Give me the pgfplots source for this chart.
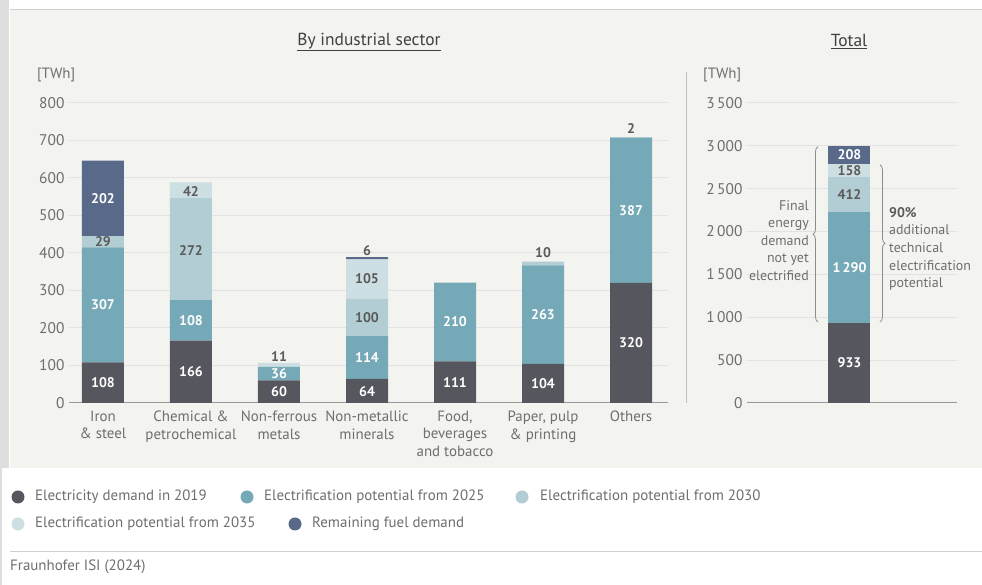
\documentclass[border=0pt]{standalone}
\usepackage{pgfplots}
\pgfplotsset{compat=1.18}
\usepackage{pgfplotstable}
\usepackage{fontspec}
\setmainfont{PT Sans}
\usetikzlibrary{decorations.pathreplacing}

\definecolor{c19}{HTML}{56565F}
\definecolor{c25}{HTML}{75A9B7}
\definecolor{c30}{HTML}{B2CDD4}
\definecolor{c35}{HTML}{CEDFE3}
\definecolor{cfuel}{HTML}{58698A}
\definecolor{panel}{HTML}{F3F3EF}
\definecolor{gridc}{HTML}{E2E2E2}
\definecolor{txt}{HTML}{6E6E6E}
\definecolor{lab}{HTML}{5A5A5A}

% sector values, bottom to top
\pgfplotstableread{
x e19 p25 p30 p35 fuel
0 108 307 29 0 202
1 166 108 272 42 0
2 60 36 0 11 0
3 64 114 100 105 6
4 111 210 0 0 0
5 104 263 10 0 0
6 320 387 2 0 0
}\sectordata

\pgfplotstableread{
x e19 p25 p30 p35 fuel
0 933 1290 412 158 208
}\totaldata

\pgfplotsset{
  common/.style={
    scale only axis, ybar stacked, bar width=42bp, ymin=0,
    axis x line*=bottom, axis y line*=left,
    y axis line style={draw=none},
    x axis line style={draw=black!40, line width=1bp},
    major tick length=0pt,
    ymajorgrids, grid style={gridc, line width=1bp},
    yticklabel style={txt, font=\fontsize{15.5}{18}\selectfont, xshift=-1bp},
    /pgf/number format/assume math mode=true,
    /pgf/number format/1000 sep={\,},
    clip=false,
  },
  leftbox/.style={at={(69bp,182bp)}, anchor=south west, scale only axis,
    width=599bp, height=300bp, xmin=-0.386, xmax=6.42, ymin=0, ymax=800, clip=false},
  rightbox/.style={at={(747bp,182bp)}, anchor=south west, scale only axis,
    width=210bp, height=300bp, xmin=-0.976, xmax=1.024, ymin=0, ymax=3500, clip=false},
}
\tikzset{
  vl/.style={font=\bfseries\fontsize{14}{15}\selectfont, white},
  vd/.style={font=\bfseries\fontsize{14}{15}\selectfont, lab},
}

\begin{document}
\begin{tikzpicture}[x=1bp,y=1bp]
\useasboundingbox (0,0) rectangle (982,585);
\fill[white] (0,0) rectangle (982,585);
\fill[panel] (10,117) rectangle (982,575);
\draw[black!18, line width=1bp] (10,575) -- (982,575);
\fill[black!13] (0,117) rectangle (9,585);
\fill[black!13] (0,0) rectangle (2,117);

\node[anchor=center, text=black!75, font=\fontsize{17.5}{20}\selectfont] at (369,543) {\underline{By industrial sector}};
\node[anchor=center, text=black!75, font=\fontsize{17.5}{20}\selectfont] at (849,543) {\underline{Total}};
\node[anchor=west, txt, font=\fontsize{15}{17}\selectfont, inner sep=0] at (37,510) {[TWh]};
\node[anchor=west, txt, font=\fontsize{15}{17}\selectfont, inner sep=0] at (703,510) {[TWh]};
\draw[black!25, line width=1bp] (686,513) -- (686,182);

\begin{axis}[common, leftbox,
  ytick={0,100,...,800},
  xtick={0,...,6},
  xticklabels={{Iron\\\& steel},{Chemical \&\\petrochemical},{Non-ferrous\\metals},{Non-metallic\\minerals},{Food,\\beverages\\and tobacco},{Paper, pulp\\\& printing},{Others}},
  xticklabel style={txt, align=center, yshift=-4.5bp, font=\fontsize{15}{17.5}\selectfont},
]
\addplot[fill=c19, draw=none] table[x=x, y=e19] {\sectordata};
\addplot[fill=c25, draw=none] table[x=x, y=p25] {\sectordata};
\addplot[fill=c30, draw=none] table[x=x, y=p30] {\sectordata};
\addplot[fill=c35, draw=none] table[x=x, y=p35] {\sectordata};
\addplot[fill=cfuel, draw=none] table[x=x, y=fuel] {\sectordata};
\end{axis}

% value labels, drawn over the bars
\begin{axis}[leftbox, hide axis]
\node[vl] at (axis cs:0,54) {108};
\node[vl] at (axis cs:0,261) {307};
\node[vd] at (axis cs:0,429) {29};
\node[vl] at (axis cs:0,545) {202};
\node[vl] at (axis cs:1,83) {166};
\node[vl] at (axis cs:1,220) {108};
\node[vd] at (axis cs:1,406) {272};
\node[vd] at (axis cs:1,565) {42};
\node[vl] at (axis cs:2,29) {60};
\node[vl] at (axis cs:2,77) {36};
\node[vd] at (axis cs:2,123) {11};
\node[vl] at (axis cs:3,30) {64};
\node[vl] at (axis cs:3,121) {114};
\node[vd] at (axis cs:3,228) {100};
\node[vd] at (axis cs:3,331) {105};
\node[vd] at (axis cs:3,405) {6};
\node[vl] at (axis cs:4,55) {111};
\node[vl] at (axis cs:4,216) {210};
\node[vl] at (axis cs:5,52) {104};
\node[vl] at (axis cs:5,235) {263};
\node[vd] at (axis cs:5,400) {10};
\node[vl] at (axis cs:6,160) {320};
\node[vl] at (axis cs:6,513) {387};
\node[vd] at (axis cs:6,733) {2};
\end{axis}

\begin{axis}[common, rightbox,
  ytick={0,500,...,3500},
  xtick=\empty,
]
\addplot[fill=c19, draw=none] table[x=x, y=e19] {\totaldata};
\addplot[fill=c25, draw=none] table[x=x, y=p25] {\totaldata};
\addplot[fill=c30, draw=none] table[x=x, y=p30] {\totaldata};
\addplot[fill=c35, draw=none] table[x=x, y=p35] {\totaldata};
\addplot[fill=cfuel, draw=none] table[x=x, y=fuel] {\totaldata};
\end{axis}

\begin{axis}[rightbox, hide axis]
\node[vl] at (axis cs:0,466) {933};
\node[vl] at (axis cs:0,1585) {1\,290};
\node[vd] at (axis cs:0,2429) {412};
\node[vd] at (axis cs:0,2714) {158};
\node[vl] at (axis cs:0,2897) {208};
\draw[black!45, line width=0.8bp, decorate, decoration={brace, amplitude=5bp}]
  (axis cs:-0.3,945) -- (axis cs:-0.3,2990);
\draw[black!45, line width=0.8bp, decorate, decoration={brace, amplitude=5bp}]
  (axis cs:0.29,2780) -- (axis cs:0.29,945);
\node[anchor=east, align=right, txt, inner sep=0, font=\fontsize{14}{17.7}\selectfont]
  at (axis cs:-0.386,1896) {Final\\energy\\demand\\not yet\\electrified};
\node[anchor=west, align=left, txt, inner sep=0, font=\fontsize{14}{17.7}\selectfont]
  at (axis cs:0.376,1797) {\textbf{\color{lab}90\%}\\additional\\technical\\electrification\\potential};
\end{axis}

% legend
\begin{scope}[every node/.style={anchor=west, txt, inner sep=0, font=\fontsize{15}{17}\selectfont}]
\fill[c19] (18,88) circle (6.5);   \node at (35,88) {Electricity demand in 2019};
\fill[c25] (247,88) circle (6.5);  \node at (264,88) {Electrification potential from 2025};
\fill[c30] (522,88) circle (6.5);  \node at (540,88) {Electrification potential from 2030};
\fill[c35] (18,61) circle (6.5);   \node at (35,61) {Electrification potential from 2035};
\fill[cfuel] (295,61) circle (6.5);\node at (312,61) {Remaining fuel demand};
\end{scope}
\draw[black!18, line width=1bp] (10,33) -- (982,33);
\node[anchor=west, txt, inner sep=0, font=\fontsize{15}{17}\selectfont] at (10,18) {Fraunhofer ISI (2024)};
\end{tikzpicture}
\end{document}
